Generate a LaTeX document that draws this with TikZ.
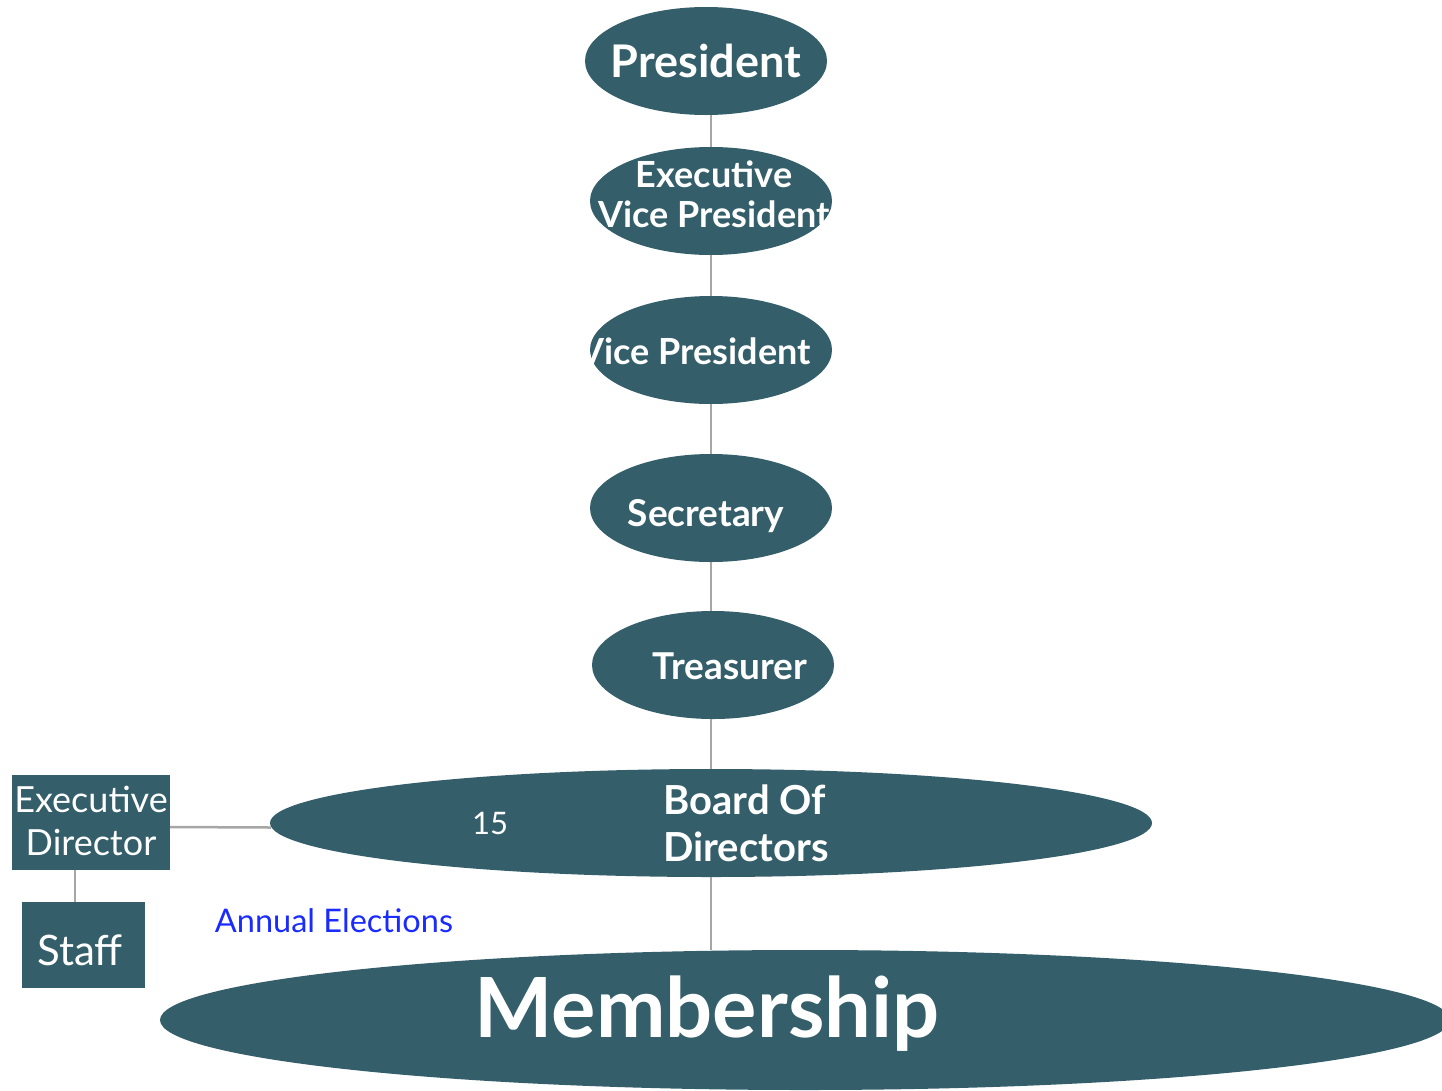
\documentclass[tikz,border=0pt]{standalone}
\usepackage{fontspec}
\setmainfont{Lato}
\usetikzlibrary{shapes.geometric}
\definecolor{boxteal}{HTML}{335E6A}
\definecolor{linegray}{HTML}{A6A6A6}
\definecolor{elecblue}{HTML}{1A2BFF}
\newcommand{\fsz}[2]{\fontsize{#1}{#2}\selectfont}
\begin{document}
\begin{tikzpicture}[x=1pt,y=-1pt,
  oval/.style={ellipse, fill=boxteal, inner sep=0pt, text=white, font=\bfseries},
  box/.style={rectangle, fill=boxteal, inner sep=0pt, text=white},
  ovaltext/.style={text=white, inner sep=0pt, font=\bfseries\fsz{36}{40}, align=center},
  link/.style={draw=linegray, line width=2.5pt}]
\useasboundingbox (0,0) rectangle (1442,1090);
\clip (0,0) rectangle (1442,1090);

% ellipses
\node[oval, minimum width=242pt, minimum height=108pt] (pres) at (706,61) {};
\node[oval, minimum width=242pt, minimum height=108pt] (evp) at (711,201) {};
\node[oval, minimum width=242pt, minimum height=108pt] (vp) at (711,350) {};
\node[oval, minimum width=242pt, minimum height=108pt] (sec) at (711,508) {};
\node[oval, minimum width=242pt, minimum height=108pt] (tre) at (713,665) {};
\node[oval, minimum width=882pt, minimum height=108pt] (bod) at (711,823) {};
\node[oval, minimum width=1290pt, minimum height=140pt] (mem) at (805,1020) {};

% boxes
\node[box, minimum width=158pt, minimum height=95pt] (ed) at (91,822.5) {};
\node[box, minimum width=123pt, minimum height=86pt] (staff) at (83.5,945) {};

% texts
\node[text=white, inner sep=0pt, font=\fsz{36}{43}, align=center] (edt) at (91,821) {Executive\\Director};
\node[text=white, inner sep=0pt, font=\fsz{42}{50}] (stafft) at (80,950) {Staff};
\node[ovaltext, font=\bfseries\fsz{45}{50}] (prest) at (706,61) {President};
\node[ovaltext] (evpt) at (714,194) {Executive\\Vice President};
\node[ovaltext] (vpt) at (695,351) {Vice President};
\node[ovaltext, font=\bfseries\fsz{37}{40}] (sect) at (706,516) {Secretary};
\node[ovaltext, font=\bfseries\fsz{37}{40}] (tret) at (730,666) {Treasurer};
\node[ovaltext, font=\bfseries\fsz{40}{47}, align=left, anchor=west] (bodt) at (663,823) {Board Of\\Directors};
\node[text=white, inner sep=0pt, font=\fsz{31}{36}] (fifteen) at (490,823) {15};
\node[text=white, inner sep=0pt, font=\bfseries\fsz{83}{90}] (memt) at (707,1014) {Membership};
\node[text=elecblue, inner sep=0pt, font=\fsz{32.5}{36}] (elect) at (334,921) {Annual Elections};

% connectors
\draw[link] (evp.north) -- (evp.north |- pres.south);
\draw[link] (vp.north) -- (evp.south);
\draw[link] (sec.north) -- (vp.south);
\draw[link] (tre.north -| sec.south) -- (sec.south);
\draw[link] (bod.north) -- (bod.north |- tre.south);
\draw[link] (bod.south) -- (bod.south |- mem.north);
\draw[link] ([yshift=-4.5pt]ed.east) -- ([yshift=-4.5pt,xshift=1pt]bod.west);
\draw[link] ([xshift=-16pt]ed.south) -- ([xshift=-16pt]ed.south |- staff.north);
\end{tikzpicture}
\end{document}
